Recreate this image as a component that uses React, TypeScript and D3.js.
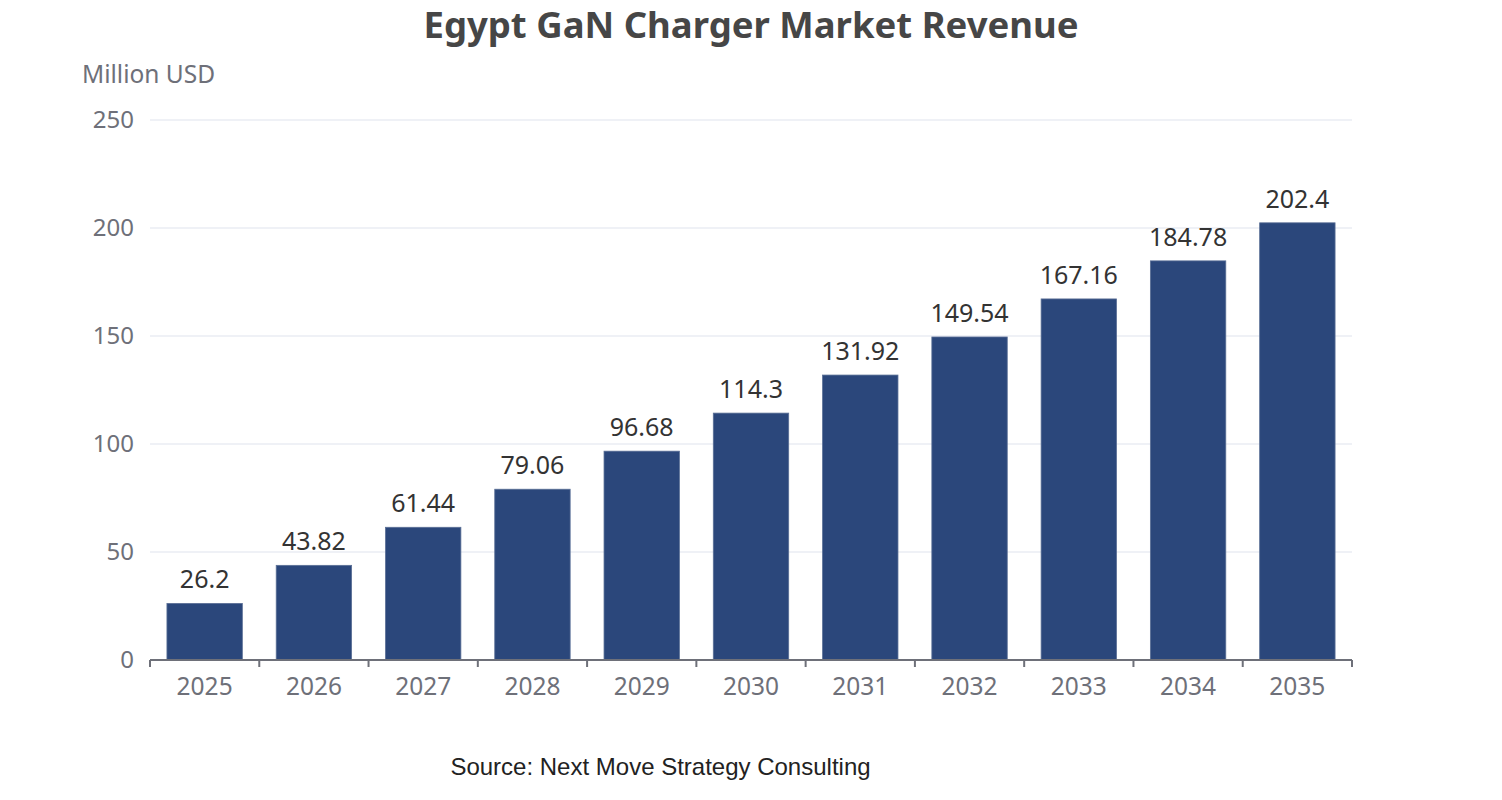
import React from "react";
import * as d3 from "d3";

const years = ["2025","2026","2027","2028","2029","2030","2031","2032","2033","2034","2035"];
const revenue = [26.2, 43.82, 61.44, 79.06, 96.68, 114.3, 131.92, 149.54, 167.16, 184.78, 202.4];
const yTicks = [0, 50, 100, 150, 200, 250];

const W = 1502, H = 800;
const left = 150, right = 1352, top = 120, bottom = 660;
const font = "'Noto Sans', 'Open Sans', sans-serif";

export default function App() {
  const x = d3.scaleBand<string>().domain(years).range([left, right]).paddingInner(0.31).paddingOuter(0.155);
  const xb = d3.scaleBand<string>().domain(years).range([left, right]);
  const y = d3.scaleLinear().domain([0, 250]).range([bottom, top]);
  return (
    <svg width={W} height={H} style={{ position: "absolute", left: 0, top: 0 }}>
      <rect width={W} height={H} fill="#fff" />
      <text x={751} y={38} textAnchor="middle" fontFamily={font} fontWeight="bold" fontSize={36.5} fill="#464646">Egypt GaN Charger Market Revenue</text>
      <text x={82} y={83} fontFamily={font} fontSize={24.5} fill="#6e7079">Million USD</text>
      {yTicks.map(t => (
        <g key={t}>
          {t > 0 && <line x1={left} x2={right} y1={y(t)} y2={y(t)} stroke="#dfe3ee" strokeWidth={1.2} />}
          <text x={134} y={y(t)} dy="0.35em" textAnchor="end" fontFamily={font} fontSize={24} fill="#6e7079">{t}</text>
        </g>
      ))}
      {years.map((yr, i) => (
        <g key={yr}>
          <rect x={x(yr)} y={y(revenue[i])} width={x.bandwidth()} height={bottom - y(revenue[i])} fill="#2b477b" stroke="#5a6f96" strokeWidth={0.8} />
          <text x={(x(yr) as number) + x.bandwidth() / 2} y={y(revenue[i]) - 15} textAnchor="middle" fontFamily={font} fontSize={25} fill="#333">{revenue[i]}</text>
          <text x={(xb(yr) as number) + xb.bandwidth() / 2} y={695} textAnchor="middle" fontFamily={font} fontSize={24.5} fill="#6e7079">{yr}</text>
        </g>
      ))}
      <line x1={left} x2={right} y1={bottom} y2={bottom} stroke="#6e7079" strokeWidth={2} />
      {d3.range(years.length + 1).map(i => {
        const tx = left + i * xb.step();
        return <line key={i} x1={tx} x2={tx} y1={bottom} y2={bottom + 7} stroke="#6e7079" strokeWidth={2} />;
      })}
      <text x={660.5} y={775} textAnchor="middle" fontFamily="'Liberation Sans', Arial, sans-serif" fontSize={24} fill="#222">Source: Next Move Strategy Consulting</text>
    </svg>
  );
}
